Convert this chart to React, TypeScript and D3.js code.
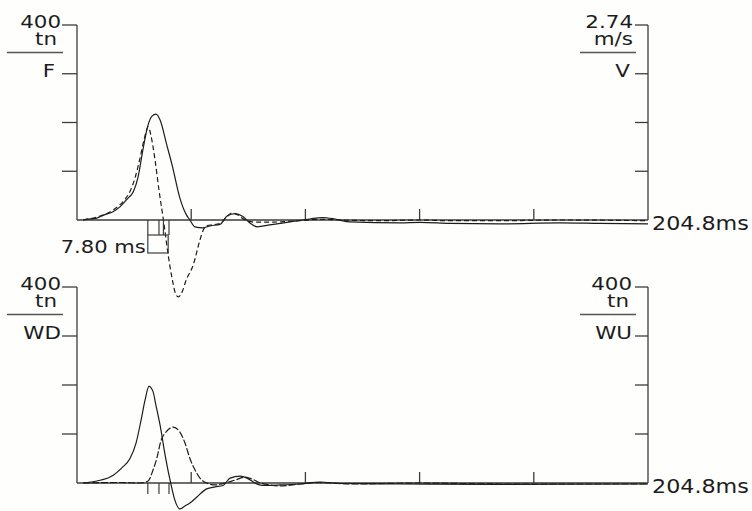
import React, { useRef, useEffect } from 'react';
import * as d3 from 'd3';

// time axis (ms)
const totalMs = 204.8;
const timeTicks = [40.96, 81.92, 122.88, 163.84];

// tick values on the side axes
const forceTicks = [400, 300, 200, 100];
const velTicks = [2.74, 2.055, 1.37, 0.685];

// top panel: force F (tn), solid
const fTime = [2.2, 2.9, 7.1, 10.0, 12.9, 15.4, 18.3, 20.2, 21.9, 23.7, 25.5, 26.9, 28.3, 29.8, 32.2, 34.1, 36.9, 39.1, 40.5, 42.3, 45.2, 47.7, 51.3, 53.8, 56.7, 59.5, 62.0, 64.6, 69.2, 76.4, 83.6, 87.9, 92.5, 97.9, 115.8, 123.0, 133.8, 151.7, 173.2, 187.6, 204.8];
const fValues = [0, 1, 4, 11, 17, 27, 45, 58, 88, 146, 195, 213, 217, 205, 154, 113, 45, 12, 0, -14, -16, -12, -9, 8, 13, 7, -6, -14, -10, -4, 2, 5, 2, -4, -6, -5, -7, -8, -6, -7, -8];

// top panel: velocity V (m/s), dashed
const vTime = [2.2, 7.1, 12.9, 17.2, 19.0, 20.8, 22.6, 24.0, 25.6, 26.5, 28.0, 29.4, 31.0, 32.7, 34.1, 35.3, 36.3, 37.7, 39.1, 41.7, 44.1, 45.3, 46.6, 51.3, 53.4, 55.6, 57.7, 60.3, 63.8, 69.2, 80.0, 87.2, 94.3, 108.7, 123.0, 133.8, 151.7, 173.2, 204.8];
const vValues = [0, 0.04, 0.14, 0.29, 0.40, 0.59, 0.87, 1.12, 1.31, 1.19, 0.84, 0.42, 0, -0.49, -0.82, -1.03, -1.08, -1.01, -0.85, -0.63, -0.28, -0.14, -0.08, -0.05, 0.03, 0.10, 0.07, 0, -0.03, -0.03, -0.01, 0.01, 0, -0.01, 0, -0.01, -0.01, 0, -0.01];

// bottom panel: wave down WD (tn), solid
const wdTime = [2.2, 7.1, 13.0, 16.1, 19.0, 21.2, 23.0, 24.4, 25.8, 27.3, 28.3, 29.8, 31.6, 33.6, 35.1, 36.9, 38.7, 40.5, 42.9, 46.5, 49.5, 52.4, 54.9, 58.5, 61.0, 63.8, 66.4, 72.8, 80.0, 87.2, 94.3, 115.8, 151.7, 204.8];
const wdValues = [0, 4, 16, 31, 50, 82, 129, 169, 197, 186, 159, 118, 57, 0, -35, -53, -47, -41, -29, -12, -8, -5, 10, 14, 10, 0, -5, -4, -2, 2, -1, -2, -3, -2];

// bottom panel: wave up WU (tn), dashed
const wuTime = [2.2, 15.4, 22.6, 25.5, 27.3, 28.6, 30.1, 31.9, 34.5, 36.9, 38.7, 40.5, 42.3, 44.1, 46.5, 49.5, 53.1, 56.7, 60.3, 62.8, 64.9, 69.2, 72.8, 80.0, 87.2, 97.9, 123.0, 151.7, 204.8];
const wuValues = [0, 1, 0, 4, 27, 50, 86, 104, 114, 104, 82, 50, 27, 10, 0, -4, 0, 6, 12, 8, 2, -4, -6, -2, 1, -2, 0, -2, -2];

// marker lines under the baseline and the measured window
const topMarkers = [25.4, 29.4, 31.0, 33.0];
const bottomMarkers = [25.4, 29.4, 33.0];
const windowStart = 25.4;
const windowEnd = 32.7;
const windowLabel = '7.80 ms';

const INK = '#1c1c1c';
const AXIS = '#3c3c3c';
const FONT = '"DejaVu Sans", Verdana, sans-serif';

export default function App() {
  const ref = useRef<SVGSVGElement>(null);

  useEffect(() => {
    const svg = d3.select(ref.current);
    svg.selectAll('*').remove();

    const left = 77;
    const right = 648;
    const x = d3.scaleLinear().domain([0, totalMs]).range([left, right]);

    const label = (txt: string, tx: number, ty: number, size = 17, sx = 1.26, anchor = 'end') => {
      svg.append('text')
        .attr('transform', `translate(${tx},${ty}) scale(${sx},1.05)`)
        .attr('text-anchor', anchor)
        .attr('font-family', FONT)
        .attr('font-size', size)
        .attr('fill', INK)
        .text(txt);
    };

    const panel = (
      top: number,
      base: number,
      yL: d3.ScaleLinear<number, number>,
      yR: d3.ScaleLinear<number, number>,
      ticksR: number[],
      leftLabels: [string, number][],
      rightLabels: [string, number][],
      solid: [number[], number[], d3.ScaleLinear<number, number>],
      dashed: [number[], number[], d3.ScaleLinear<number, number>],
      dash: string
    ) => {
      // axes
      svg.append('line').attr('x1', left).attr('x2', left).attr('y1', top).attr('y2', base)
        .attr('stroke', AXIS).attr('stroke-width', 1.3);
      svg.append('line').attr('x1', right).attr('x2', right).attr('y1', top).attr('y2', base)
        .attr('stroke', AXIS).attr('stroke-width', 1.3);
      svg.append('line').attr('x1', left).attr('x2', right).attr('y1', base).attr('y2', base)
        .attr('stroke', AXIS).attr('stroke-width', 1.3);

      forceTicks.forEach((t) => {
        svg.append('line').attr('x1', left - 15).attr('x2', left).attr('y1', yL(t)).attr('y2', yL(t))
          .attr('stroke', AXIS).attr('stroke-width', 1.3);
      });
      ticksR.forEach((t) => {
        svg.append('line').attr('x1', right - 13).attr('x2', right).attr('y1', yR(t)).attr('y2', yR(t))
          .attr('stroke', AXIS).attr('stroke-width', 1.3);
      });
      timeTicks.forEach((t) => {
        svg.append('line').attr('x1', x(t)).attr('x2', x(t)).attr('y1', base - 11).attr('y2', base)
          .attr('stroke', AXIS).attr('stroke-width', 1.3);
      });

      // side labels
      const rows = [top + 2.5, top + 19.5, top + 51.5];
      leftLabels.forEach(([txt, ex], i) => label(txt, ex, rows[i]));
      rightLabels.forEach(([txt, ex], i) => label(txt, ex, rows[i]));
      svg.append('line').attr('x1', 7).attr('x2', 63).attr('y1', top + 27.5).attr('y2', top + 27.5)
        .attr('stroke', '#555').attr('stroke-width', 1.3);
      svg.append('line').attr('x1', 580).attr('x2', 636).attr('y1', top + 27.5).attr('y2', top + 27.5)
        .attr('stroke', '#555').attr('stroke-width', 1.3);
      label('204.8ms', 652, base + 9.5, 19, 1.17, 'start');

      // curves
      const draw = ([ts, vs, ys]: [number[], number[], d3.ScaleLinear<number, number>], d: string | null) => {
        const line = d3.line<number>()
          .x((_, i) => x(ts[i]))
          .y((v) => ys(v))
          .curve(d3.curveMonotoneX);
        svg.append('path')
          .attr('d', line(vs))
          .attr('fill', 'none')
          .attr('stroke', INK)
          .attr('stroke-width', 1.2)
          .attr('stroke-dasharray', d);
      };
      draw(solid, null);
      draw(dashed, dash);
    };

    const yF = d3.scaleLinear().domain([0, 400]).range([220, 25]);
    const yV = d3.scaleLinear().domain([0, 2.74]).range([220, 25]);
    const yW = d3.scaleLinear().domain([0, 400]).range([483, 287]);

    panel(25, 220, yF, yV, velTicks,
      [['400', 61], ['tn', 57], ['F', 55]],
      [['2.74', 633], ['m/s', 633], ['V', 630]],
      [fTime, fValues, yF], [vTime, vValues, yV], '5,3');

    panel(287, 483, yW, yW, forceTicks,
      [['400', 61], ['tn', 57], ['WD', 61]],
      [['400', 632], ['tn', 629], ['WU', 632]],
      [wdTime, wdValues, yW], [wuTime, wuValues, yW], '7,2');

    // markers and window box (top)
    topMarkers.forEach((t) => {
      svg.append('line').attr('x1', x(t)).attr('x2', x(t)).attr('y1', 220).attr('y2', 235)
        .attr('stroke', AXIS).attr('stroke-width', 1.2);
    });
    svg.append('rect')
      .attr('x', x(windowStart)).attr('y', 235)
      .attr('width', x(windowEnd) - x(windowStart)).attr('height', 18)
      .attr('fill', 'none').attr('stroke', AXIS).attr('stroke-width', 1.2);
    label(windowLabel, x(windowStart) - 2, 253, 17, 1.24);

    bottomMarkers.forEach((t) => {
      svg.append('line').attr('x1', x(t)).attr('x2', x(t)).attr('y1', 483).attr('y2', 494)
        .attr('stroke', AXIS).attr('stroke-width', 1.2);
    });
  }, []);

  return (
    <div style={{ position: 'fixed', left: 0, top: 0, width: 752, height: 511, background: '#fefefc' }}>
      <svg ref={ref} width={752} height={511} />
    </div>
  );
}
